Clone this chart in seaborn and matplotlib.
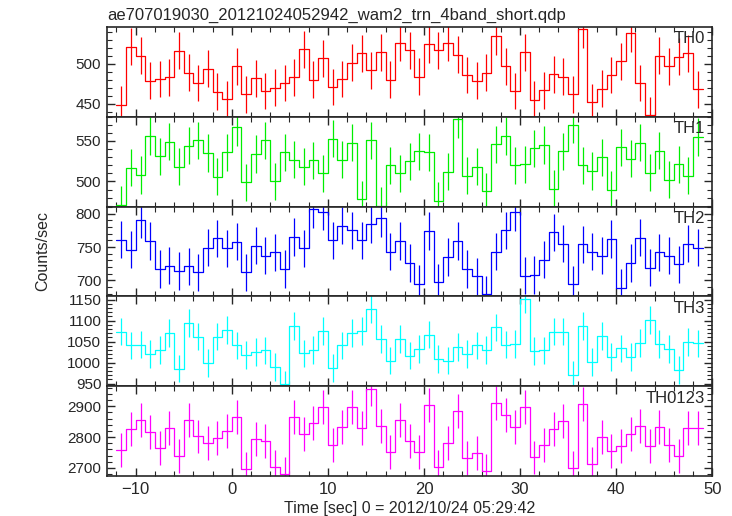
import numpy as np
import matplotlib
matplotlib.use("Agg")
import matplotlib.pyplot as plt
from matplotlib.ticker import MultipleLocator
import seaborn as sns

sns.set_style("ticks")
plt.rcParams['font.family'] = ['Liberation Sans', 'DejaVu Sans']

# Light curve data: 1 s bins starting at t = -12 s
t_start = -12.0
bin_width = 1.0

th0 = [449, 521, 510, 479, 481, 483, 516, 489, 476, 494, 465, 456, 497, 462, 482, 466,
       470, 476, 483, 518, 480, 507, 471, 481, 501, 513, 492, 514, 480, 526, 517,
       484, 524, 517, 526, 511, 486, 479, 489, 534, 497, 466, 514, 455, 467, 487,
       484, 462, 543, 452, 469, 486, 503, 538, 476, 436, 510, 497, 509, 513, 468]
th1 = [471, 517, 508, 556, 531, 549, 518, 544, 551, 535, 506, 536, 567, 499, 534, 551,
       500, 536, 527, 518, 526, 510, 553, 527, 548, 478, 551, 470, 520, 510, 525,
       537, 536, 476, 512, 577, 507, 518, 488, 546, 556, 520, 521, 541, 545, 491,
       537, 570, 520, 513, 530, 490, 542, 528, 548, 511, 538, 502, 521, 507, 555]
th2 = [761, 746, 791, 759, 717, 722, 714, 721, 712, 749, 763, 748, 758, 712, 752, 737,
       742, 717, 765, 748, 807, 803, 760, 782, 775, 760, 784, 793, 743, 759, 726,
       695, 774, 697, 735, 759, 717, 706, 679, 743, 775, 802, 707, 708, 731, 772,
       755, 694, 754, 743, 737, 762, 689, 726, 764, 719, 742, 737, 724, 755, 749]
th3 = [1074, 1041, 1043, 1021, 1031, 1071, 986, 1095, 1062, 1000, 1062, 1077, 1041,
       1019, 1025, 1029, 989, 948, 1088, 1022, 1031, 1075, 988, 1041, 1071, 1076,
       1127, 1057, 1005, 1057, 1017, 1032, 1067, 1008, 1005, 1037, 1020, 1041, 1031,
       1084, 1043, 1044, 1151, 1027, 1029, 1074, 1074, 970, 1088, 1001, 1063, 1013,
       1034, 1014, 1047, 1102, 1044, 1032, 982, 1050, 1046]
th0123 = [2759, 2827, 2854, 2818, 2764, 2828, 2739, 2854, 2802, 2781, 2796, 2820, 2865,
          2696, 2793, 2786, 2704, 2680, 2866, 2810, 2846, 2896, 2776, 2833, 2897, 2828,
          2957, 2836, 2752, 2854, 2787, 2752, 2903, 2702, 2782, 2886, 2731, 2748, 2690,
          2909, 2872, 2832, 2896, 2734, 2773, 2825, 2853, 2699, 2907, 2713, 2801, 2754,
          2771, 2810, 2837, 2770, 2834, 2773, 2738, 2828, 2828]

bands = ["TH0", "TH1", "TH2", "TH3", "TH0123"]
series = [th0, th1, th2, th3, th0123]
errors = [23, 23, 28, 33, 55]
colors = ["#ff0000", "#00ee00", "#0000ff", "#00ffff", "#ff00ff"]
ylims = [(434, 546), (469, 580), (676, 811), (944, 1158), (2674, 2965)]
major_step = [50, 50, 50, 50, 100]
minor_step = [10, 10, 10, 10, 20]

n = len(th0)
edges = t_start + bin_width * np.arange(n + 1)
centers = edges[:-1] + bin_width / 2

fig, axes = plt.subplots(5, 1, sharex=True, figsize=(7.32, 5.16), dpi=100)
fig.subplots_adjust(left=0.146, right=0.973, top=0.948, bottom=0.0775, hspace=0)

for ax, name, vals, err, c, yl, mj, mn in zip(axes, bands, series, errors, colors,
                                              ylims, major_step, minor_step):
    vals = np.array(vals, dtype=float)
    sns.lineplot(x=edges, y=np.append(vals, vals[-1]), drawstyle='steps-post',
                 color=c, lw=0.9, sort=False, estimator=None, ax=ax)
    ax.errorbar(centers, vals, yerr=err, fmt='none', ecolor=c, elinewidth=0.9)
    ax.set_ylim(*yl)
    ax.set_xlim(-13, 50)
    ax.yaxis.set_major_locator(MultipleLocator(mj))
    ax.yaxis.set_minor_locator(MultipleLocator(mn))
    ax.xaxis.set_major_locator(MultipleLocator(10))
    ax.xaxis.set_minor_locator(MultipleLocator(2))
    ax.tick_params(which='both', direction='in', top=True, right=True,
                   labelsize=11, pad=4)
    ax.tick_params(which='major', length=6, width=1)
    ax.tick_params(which='minor', length=3.5, width=0.8)
    for sp in ax.spines.values():
        sp.set_linewidth(1.2)
    ax.text(0.988, 0.95, name, transform=ax.transAxes, ha='right', va='top',
            fontsize=12)
    ax.set_ylabel("")

axes[-1].set_xlabel("Time [sec] 0 = 2012/10/24 05:29:42", fontsize=11.5, labelpad=3)
axes[-1].tick_params(axis='x', labelsize=12)
fig.text(0.058, 0.513, "Counts/sec", rotation=90, ha='center', va='center', fontsize=11.5)
fig.text(0.146, 0.971, "ae707019030_20121024052942_wam2_trn_4band_short.qdp",
         ha='left', va='center', fontsize=12)

fig.savefig("out.png", dpi=100)
